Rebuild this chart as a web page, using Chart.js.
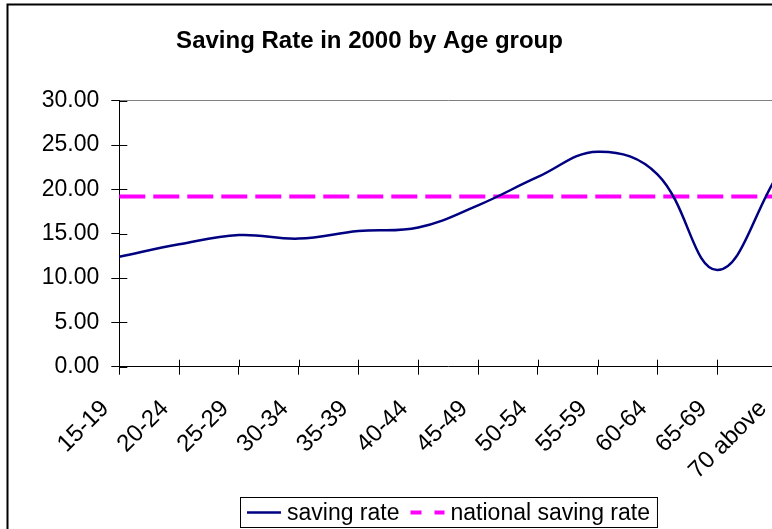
<!DOCTYPE html>
<html>
<head>
<meta charset="utf-8">
<script src="https://cdn.jsdelivr.net/npm/chart.js@4.4.1/dist/chart.umd.min.js"></script>
<style>
  html, body { margin: 0; padding: 0; overflow: hidden; background: #fff; }
  canvas { display: block; }
</style>
</head>
<body>
<canvas id="chart" width="800" height="535"></canvas>
<script>
// Chart data
const TITLE = 'Saving Rate in 2000 by Age group';
const ageGroups = ['15-19', '20-24', '25-29', '30-34', '35-39', '40-44',
                   '45-49', '50-54', '55-59', '60-64', '65-69', '70 above'];
const savingRate = [12.4, 13.8, 14.85, 14.45, 15.3, 15.7, 18.2, 21.4, 24.25, 21.7, 10.9, 21.5];
const nationalRate = [19.2, 19.2, 19.2, 19.2, 19.2, 19.2, 19.2, 19.2, 19.2, 19.2, 19.2, 19.2];
const yMin = 0, yMax = 30, yStep = 5;

const FONT = '"Liberation Sans", Arial, sans-serif';

// Excel-like decorations: outer frame, title, crossing ticks, boxed legend
const excelDecor = {
    id: 'excelDecor',
    beforeDraw(chart) {
        const ctx = chart.ctx;
        ctx.save();
        ctx.fillStyle = '#fff';
        ctx.fillRect(0, 0, chart.width, chart.height);
        ctx.restore();
    },
    afterDraw(chart) {
        const ctx = chart.ctx;
        const area = chart.chartArea;
        const xs = chart.scales.x, ys = chart.scales.y;
        ctx.save();

        // outer chart frame
        ctx.strokeStyle = '#000';
        ctx.lineWidth = 2;
        ctx.strokeRect(7.5, 4.5, chart.width + 20, chart.height + 20);

        // inner half of the crossing tick marks
        ctx.lineWidth = 1;
        ctx.strokeStyle = '#000';
        ctx.beginPath();
        xs.ticks.forEach((t, i) => {
            const px = Math.round(xs.getPixelForTick(i)) + 0.5;
            ctx.moveTo(px, area.bottom);
            ctx.lineTo(px, area.bottom - 7);
        });
        ys.ticks.forEach((t, i) => {
            const py = Math.round(ys.getPixelForTick(i)) + 0.5;
            ctx.moveTo(area.left, py);
            ctx.lineTo(area.left + 8, py);
        });
        ctx.stroke();

        // title
        ctx.fillStyle = '#000';
        ctx.font = 'bold 24px ' + FONT;
        ctx.textAlign = 'center';
        ctx.textBaseline = 'alphabetic';
        ctx.fillText(TITLE, 369.5, 47.5);

        // legend
        ctx.font = '23px ' + FONT;
        ctx.textAlign = 'left';
        ctx.textBaseline = 'middle';
        const boxLeft = 240, boxTop = 497.5, boxH = 30;
        const cy = boxTop + boxH / 2;
        let x = boxLeft + 7;
        const sets = chart.data.datasets;
        sets.forEach((ds, i) => {
            ctx.save();
            ctx.strokeStyle = ds.borderColor;
            ctx.lineWidth = ds.borderWidth;
            ctx.setLineDash(ds.borderDash && ds.borderDash.length ? [11, 13] : []);
            ctx.beginPath();
            ctx.moveTo(x, cy);
            ctx.lineTo(x + 34, cy);
            ctx.stroke();
            ctx.restore();
            x += 40;
            ctx.fillText(ds.label, x, cy + 1);
            x += ctx.measureText(ds.label).width + (i < sets.length - 1 ? 11 : 7);
        });
        ctx.strokeStyle = '#000';
        ctx.lineWidth = 1;
        ctx.strokeRect(boxLeft + 0.5, boxTop, x - boxLeft, boxH);

        ctx.restore();
    }
};

new Chart(document.getElementById('chart'), {
    type: 'line',
    data: {
        labels: ageGroups,
        datasets: [
            {
                label: 'saving rate',
                data: savingRate,
                borderColor: '#000080',
                borderWidth: 2.5,
                tension: 0.4,
                pointRadius: 0
            },
            {
                label: 'national saving rate',
                data: nationalRate,
                borderColor: '#ff00ff',
                borderWidth: 4,
                borderDash: [26, 8],
                tension: 0,
                pointRadius: 0
            }
        ]
    },
    options: {
        responsive: false,
        animation: false,
        layout: { padding: { left: 0, right: 23, top: 100.7, bottom: 0 } },
        plugins: {
            legend: { display: false },
            title: { display: false },
            tooltip: { enabled: false }
        },
        scales: {
            x: {
                type: 'category',
                offset: false,
                border: { color: '#000', width: 1 },
                grid: { drawOnChartArea: false, tickLength: 8, tickColor: '#000' },
                ticks: {
                    autoSkip: false,
                    minRotation: 45,
                    maxRotation: 45,
                    labelOffset: -14,
                    padding: 20,
                    color: '#000',
                    font: { family: FONT, size: 24 }
                },
                afterFit: (scale) => {
                    scale.height = 535 - 366.7;
                    scale.paddingLeft = 0;
                    scale.paddingRight = 0;
                }
            },
            y: {
                min: yMin,
                max: yMax,
                border: { color: '#000', width: 1 },
                grid: {
                    color: (c) => (c.tick && c.tick.value === yMax ? '#808080' : 'transparent'),
                    tickColor: '#000',
                    tickLength: 8
                },
                ticks: {
                    stepSize: yStep,
                    padding: 12,
                    color: '#000',
                    font: { family: FONT, size: 23 },
                    callback: (v) => Number(v).toFixed(2)
                },
                afterFit: (scale) => {
                    scale.width = 119.3;
                    scale.paddingTop = 0;
                    scale.paddingBottom = 0;
                }
            }
        }
    },
    plugins: [excelDecor]
});
</script>
</body>
</html>
